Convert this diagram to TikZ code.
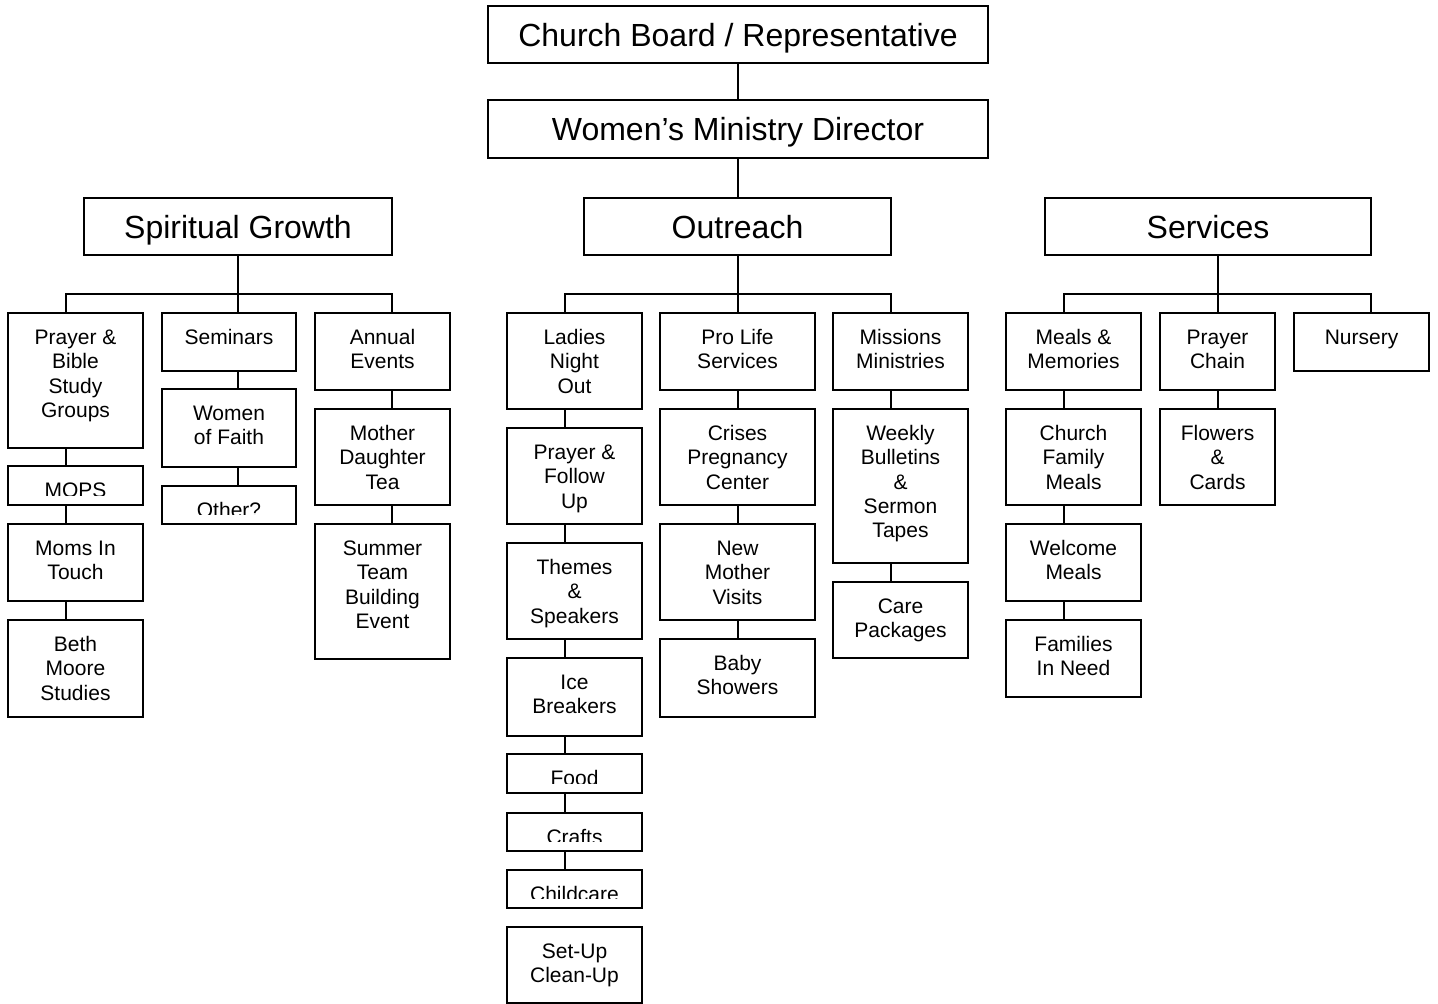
\documentclass[tikz,border=0pt]{standalone}
\usepackage{fontspec}
\setmainfont{Liberation Sans}
\usetikzlibrary{calc}
\tikzset{
  orgbox/.style={draw=black, line width=1.8pt, inner sep=0pt, fill=white},
  smalltxt/.style={font=\fontsize{21}{24.4}\selectfont, align=center, inner sep=0pt, anchor=north},
  bigtxt/.style={font=\fontsize{32}{37}\selectfont, inner sep=0pt, anchor=base},
  link/.style={draw=black, line width=1.8pt, line cap=rect}
}
% box: name, x0, y0, x1, y1, text
\newcommand\obox[6]{%
  \node[orgbox, minimum width={#4-#2}, minimum height={#5-#3}] (#1) at ({(#2+#4)/2},{(#3+#5)/2}) {};
  \node[smalltxt] (#1t) at ({(#2+#4)/2},{#3+14}) {\strut #6};
}
% clipped box
\newcommand\cbox[6]{%
  \node[orgbox, minimum width={#4-#2}, minimum height={#5-#3}] (#1) at ({(#2+#4)/2},{(#3+#5)/2}) {};
  \begin{scope}
    \clip ({#2+2},{#3+2}) rectangle ({#4-2},{#5-10});
    \node[smalltxt] (#1t) at ({(#2+#4)/2},{#3+14}) {\strut #6};
  \end{scope}
}
% big box
\newcommand\bbox[6]{%
  \node[orgbox, minimum width={#4-#2}, minimum height={#5-#3}] (#1) at ({(#2+#4)/2},{(#3+#5)/2}) {};
  \node[bigtxt] (#1t) at ({(#2+#4)/2},{(#3+#5)/2+11.5}) {#6};
}
\newcommand\chain[3]{\draw[link] (#2.south -| #1) -- (#3.north -| #1);}
\begin{document}
\begin{tikzpicture}[x=1pt,y=-1pt]
\useasboundingbox (0,0) rectangle (1438,1004);

% top levels
\bbox{cb}{488}{6}{988}{63}{Church Board / Representative}
\bbox{wmd}{488}{100}{988}{158}{Women’s Ministry Director}
\bbox{sg}{84}{198}{392}{255}{Spiritual Growth}
\bbox{out}{584}{198}{891}{255}{Outreach}
\bbox{ser}{1045}{198}{1371}{255}{Services}

% Spiritual Growth
\obox{pb}{8}{313}{143}{448}{Prayer \&\\Bible\\Study\\Groups}
\cbox{mops}{8}{466}{143}{505}{MOPS}
\obox{mit}{8}{524}{143}{601}{Moms In\\Touch}
\obox{bms}{8}{620}{143}{717}{Beth\\Moore\\Studies}
\obox{sem}{162}{313}{296}{371}{Seminars}
\obox{wof}{162}{389}{296}{467}{Women\\of Faith}
\cbox{oth}{162}{486}{296}{524}{Other?}
\obox{ae}{315}{313}{450}{390}{Annual\\Events}
\obox{mdt}{315}{409}{450}{505}{Mother\\Daughter\\Tea}
\obox{stb}{315}{524}{450}{659}{Summer\\Team\\Building\\Event}

% Outreach
\obox{lno}{507}{313}{642}{409}{Ladies\\Night\\Out}
\obox{pfu}{507}{428}{642}{524}{Prayer \&\\Follow\\Up}
\obox{ts}{507}{543}{642}{639}{Themes\\\&\\Speakers}
\obox{ib}{507}{658}{642}{736}{Ice\\Breakers}
\cbox{food}{507}{754}{642}{793}{Food}
\cbox{cr}{507}{813}{642}{851}{Crafts}
\cbox{cc}{507}{870}{642}{908}{Childcare}
\obox{su}{507}{927}{642}{1003}{Set-Up\\Clean-Up}
\obox{pls}{660}{313}{815}{390}{Pro Life\\Services}
\obox{cpc}{660}{409}{815}{505}{Crises\\Pregnancy\\Center}
\obox{nmv}{660}{524}{815}{620}{New\\Mother\\Visits}
\obox{bs}{660}{639}{815}{717}{Baby\\Showers}
\obox{mm}{833}{313}{968}{390}{Missions\\Ministries}
\obox{wb}{833}{409}{968}{563}{Weekly\\Bulletins\\\&\\Sermon\\Tapes}
\obox{cp}{833}{582}{968}{658}{Care\\Packages}

% Services
\obox{mem}{1006}{313}{1141}{390}{Meals \&\\Memories}
\obox{cfm}{1006}{409}{1141}{505}{Church\\Family\\Meals}
\obox{wm}{1006}{524}{1141}{601}{Welcome\\Meals}
\obox{fin}{1006}{620}{1141}{697}{Families\\In Need}
\obox{pc}{1160}{313}{1275}{390}{Prayer\\Chain}
\obox{fc}{1160}{409}{1275}{505}{Flowers\\\&\\Cards}
\obox{nur}{1294}{313}{1429}{371}{Nursery}

% connector coordinates
\coordinate (sgL) at (66,294);  \coordinate (sgM) at (238,294);  \coordinate (sgR) at (392,294);
\coordinate (oL) at (565,294);  \coordinate (oM) at (738,294);   \coordinate (oR) at (891,294);
\coordinate (sL) at (1064,294); \coordinate (sM) at (1218,294);  \coordinate (sR) at (1371,294);

% top connectors
\draw[link] (cb.south -| oM) -- (wmd.north -| oM);
\draw[link] (wmd.south -| oM) -- (out.north -| oM);

% Spiritual Growth tree
\draw[link] (sg.south -| sgM) -- (sgM);
\draw[link] (sgL) -- (sgR);
\draw[link] (sgL) -- (sgL |- pb.north);
\draw[link] (sgM) -- (sgM |- sem.north);
\draw[link] (sgR) -- (sgR |- ae.north);
\chain{sgL}{pb}{mops}
\chain{sgL}{mops}{mit}
\chain{sgL}{mit}{bms}
\chain{sgM}{sem}{wof}
\chain{sgM}{wof}{oth}
\chain{sgR}{ae}{mdt}
\chain{sgR}{mdt}{stb}

% Outreach tree
\draw[link] (out.south -| oM) -- (oM);
\draw[link] (oL) -- (oR);
\draw[link] (oL) -- (oL |- lno.north);
\draw[link] (oM) -- (oM |- pls.north);
\draw[link] (oR) -- (oR |- mm.north);
\chain{oL}{lno}{pfu}
\chain{oL}{pfu}{ts}
\chain{oL}{ts}{ib}
\chain{oL}{ib}{food}
\chain{oL}{food}{cr}
\chain{oL}{cr}{cc}
\chain{oM}{pls}{cpc}
\chain{oM}{cpc}{nmv}
\chain{oM}{nmv}{bs}
\chain{oR}{mm}{wb}
\chain{oR}{wb}{cp}

% Services tree
\draw[link] (ser.south -| sM) -- (sM);
\draw[link] (sL) -- (sR);
\draw[link] (sL) -- (sL |- mem.north);
\draw[link] (sM) -- (sM |- pc.north);
\draw[link] (sR) -- (sR |- nur.north);
\chain{sL}{mem}{cfm}
\chain{sL}{cfm}{wm}
\chain{sL}{wm}{fin}
\chain{sM}{pc}{fc}
\end{tikzpicture}
\end{document}
